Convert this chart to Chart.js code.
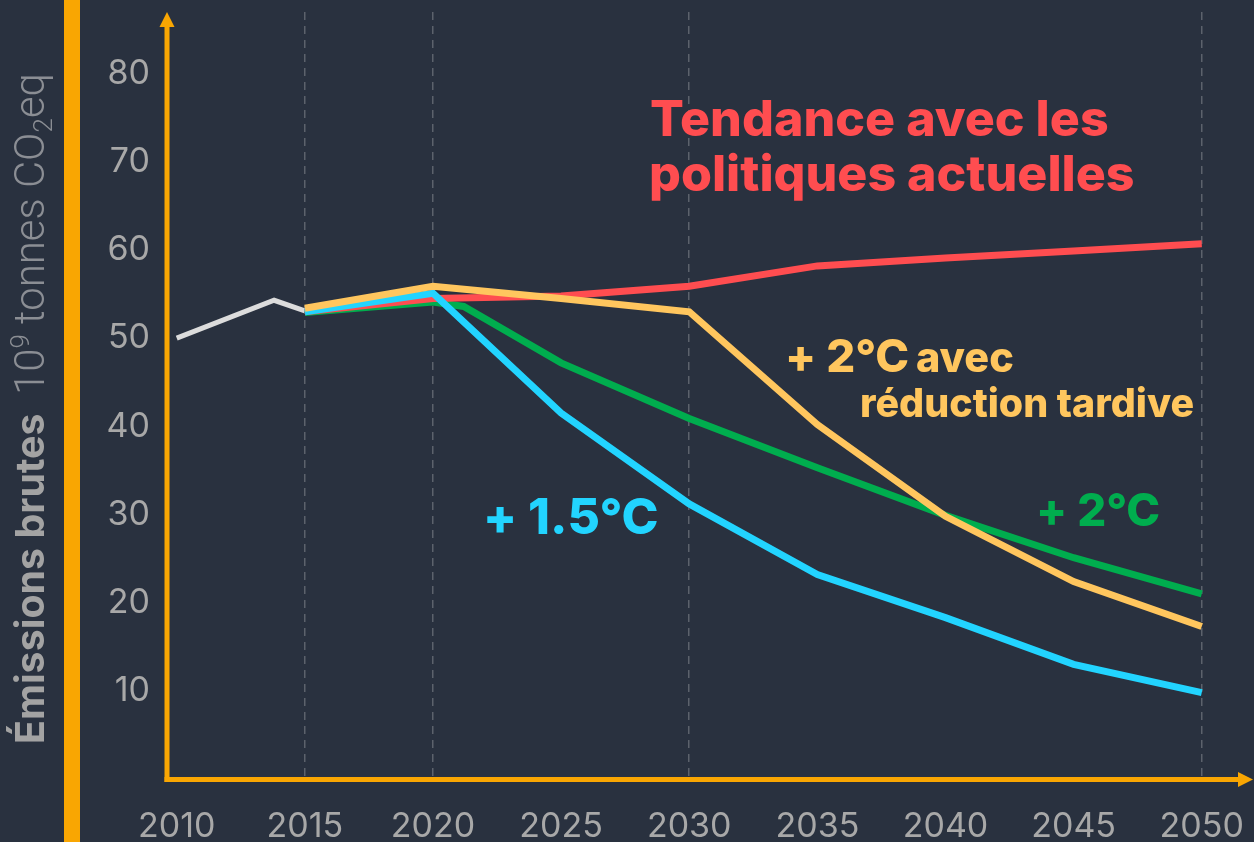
<!DOCTYPE html>
<html lang="fr">
<head>
<meta charset="utf-8">
<title>Émissions brutes</title>
<script src="https://cdn.jsdelivr.net/npm/chart.js@4.4.1/dist/chart.umd.min.js"></script>
<style>
  html, body { margin: 0; padding: 0; background: #29313f; }
  #wrap { width: 1254px; height: 842px; }
  canvas { display: block; }
</style>
</head>
<body>
<div id="wrap"><canvas id="chartEmissions" width="1254" height="842"></canvas></div>
<script>
// Valeurs (10^9 tonnes CO2eq)
var histYears = [2010, 2013.8, 2015];
var histValues = [50.0, 54.3, 53.1];

var scenarioYears = [2015, 2020, 2025, 2030, 2035, 2040, 2045, 2050];
var currentPolicies = [53.0, 54.5, 54.8, 55.9, 58.2, 59.1, 59.9, 60.7];
var lateReduction = [53.4, 55.9, 54.5, 53.0, 40.2, 29.8, 22.4, 17.3];
var path15 = [53.0, 55.1, 41.5, 31.2, 23.2, 18.3, 13.0, 9.8];

var path2Years = [2015, 2020, 2021.2, 2025, 2030, 2035, 2040, 2045, 2050];
var path2 = [52.9, 54.1, 53.6, 47.2, 40.9, 35.3, 29.9, 25.1, 21.0];

var xTicks = [2010, 2015, 2020, 2025, 2030, 2035, 2040, 2045, 2050];
var gridYears = [2015, 2020, 2030, 2050];
var yTicks = [10, 20, 30, 40, 50, 60, 70, 80];

var COL = {
    bg: '#29313f',
    orange: '#f9a602',
    red: '#ff4d50',
    yellow: '#ffc65e',
    green: '#00ad4e',
    blue: '#22d4ff',
    hist: '#dcdcdc',
    tick: '#a8a8a8',
    grid: '#5c626c'
};

// textes posés sur le graphique (position en pixels, largeur visée)
var notes = [
    { text: 'Tendance avec les', x: 651, y: 136, w: 456, color: COL.red },
    { text: 'politiques actuelles', x: 651, y: 191, w: 482, color: COL.red },
    { text: '+ 2°C', x: 788, y: 372, w: 119, color: COL.yellow },
    { text: 'avec', x: 917, y: 372, w: 96, color: COL.yellow },
    { text: 'réduction tardive', x: 862, y: 417, w: 331, color: COL.yellow },
    { text: '+ 1.5°C', x: 487, y: 534, w: 170, color: COL.blue },
    { text: '+ 2°C', x: 1039, y: 526, w: 119, color: COL.green }
];

function toPoints(xs, ys) {
    return xs.map(function(x, i) { return { x: x, y: ys[i] }; });
}

function drawFitted(ctx, text, x, baseline, width, weight, family, color) {
    ctx.font = weight + ' 100px ' + family;
    var m = ctx.measureText(text);
    var size = 100 * width / (m.actualBoundingBoxLeft + m.actualBoundingBoxRight);
    ctx.font = weight + ' ' + size.toFixed(2) + 'px ' + family;
    m = ctx.measureText(text);
    ctx.fillStyle = color;
    ctx.textAlign = 'left';
    ctx.textBaseline = 'alphabetic';
    ctx.fillText(text, x + m.actualBoundingBoxLeft, baseline);
}

var decorPlugin = {
    id: 'decor',
    beforeDraw: function(chart) {
        var ctx = chart.ctx;
        ctx.save();
        ctx.fillStyle = COL.bg;
        ctx.fillRect(0, 0, chart.width, chart.height);
        ctx.fillStyle = COL.orange;
        ctx.fillRect(64, 0, 16, chart.height);
        ctx.restore();
    },
    afterDraw: function(chart) {
        var ctx = chart.ctx;
        var a = chart.chartArea;
        ctx.save();

        // axes orange avec flèches
        ctx.fillStyle = COL.orange;
        ctx.fillRect(a.left - 2.5, a.top + 14, 5, a.bottom - a.top - 11);
        ctx.beginPath();
        ctx.moveTo(a.left, a.top);
        ctx.lineTo(a.left - 7.5, a.top + 15);
        ctx.lineTo(a.left + 7.5, a.top + 15);
        ctx.closePath();
        ctx.fill();
        ctx.fillRect(a.left - 2.5, a.bottom - 2, a.right - a.left - 12, 5);
        ctx.beginPath();
        ctx.moveTo(a.right, a.bottom + 0.5);
        ctx.lineTo(a.right - 15, a.bottom - 7);
        ctx.lineTo(a.right - 15, a.bottom + 8);
        ctx.closePath();
        ctx.fill();

        // titre de l'axe vertical
        ctx.translate(44, 742);
        ctx.rotate(-Math.PI / 2);
        drawFitted(ctx, 'Émissions brutes', 0, 0, 327, 700, 'Inter, sans-serif', '#a3a3a3');

        var parts = [
            { t: '10', k: 1, dy: 0 },
            { t: '9', k: 0.62, dy: -0.36 },
            { t: ' tonnes CO', k: 1, dy: 0 },
            { t: '2', k: 0.62, dy: 0.2 },
            { t: 'eq', k: 1, dy: 0 }
        ];
        var fam = 'Roboto, sans-serif';
        var total = 0;
        parts.forEach(function(p) {
            ctx.font = '300 ' + (100 * p.k) + 'px ' + fam;
            total += ctx.measureText(p.t).width;
        });
        var s = 100 * 322 / total;
        var px = 347;
        ctx.fillStyle = '#8b8e94';
        parts.forEach(function(p) {
            ctx.font = '300 ' + (s * p.k).toFixed(2) + 'px ' + fam;
            ctx.fillText(p.t, px, p.dy * s);
            px += ctx.measureText(p.t).width;
        });
        ctx.restore();

        ctx.save();
        notes.forEach(function(n) {
            drawFitted(ctx, n.text, n.x, n.y, n.w, 800, 'Inter, sans-serif', n.color);
        });
        ctx.restore();
    }
};

var ctx = document.getElementById('chartEmissions');

var chartEmissions = new Chart(ctx, {
    type: 'line',
    data: {
        datasets: [
            { label: '+ 2°C avec réduction tardive', data: toPoints(scenarioYears, lateReduction), borderColor: COL.yellow, borderWidth: 7 },
            { label: '+ 1.5°C', data: toPoints(scenarioYears, path15), borderColor: COL.blue, borderWidth: 7 },
            { label: 'Tendance avec les politiques actuelles', data: toPoints(scenarioYears, currentPolicies), borderColor: COL.red, borderWidth: 7 },
            { label: '+ 2°C', data: toPoints(path2Years, path2), borderColor: COL.green, borderWidth: 7 },
            { label: 'Historique', data: toPoints(histYears, histValues), borderColor: COL.hist, borderWidth: 5 }
        ]
    },
    options: {
        responsive: false,
        animation: false,
        layout: { padding: { top: 12, right: 1, left: 0, bottom: 0 } },
        elements: {
            point: { radius: 0, hoverRadius: 0 },
            line: { tension: 0, fill: false, borderJoinStyle: 'miter', borderCapStyle: 'butt' }
        },
        plugins: {
            legend: { display: false },
            tooltip: { enabled: false }
        },
        scales: {
            x: {
                type: 'linear',
                min: 2009.62,
                max: 2052.0,
                afterFit: function(s) {
                    s.height = 63;
                    s.paddingLeft = 0;
                    s.paddingRight = 0;
                },
                afterBuildTicks: function(s) {
                    s.ticks = xTicks.map(function(v) { return { value: v }; });
                },
                grid: {
                    drawTicks: false,
                    lineWidth: 1.5,
                    color: function(c) {
                        return c.tick && gridYears.indexOf(c.tick.value) >= 0 ? COL.grid : 'rgba(0,0,0,0)';
                    }
                },
                border: { display: false, dash: [8, 6] },
                ticks: {
                    color: COL.tick,
                    font: { family: 'Inter, sans-serif', size: 34 },
                    padding: 27,
                    maxRotation: 0,
                    autoSkip: false,
                    callback: function(v) { return String(v); }
                }
            },
            y: {
                min: 0,
                max: 87,
                afterFit: function(s) {
                    s.width = 167;
                    s.paddingTop = 0;
                    s.paddingBottom = 0;
                },
                afterBuildTicks: function(s) {
                    s.ticks = yTicks.map(function(v) { return { value: v }; });
                },
                grid: { display: false, drawTicks: false },
                border: { display: false },
                ticks: {
                    color: COL.tick,
                    font: { family: 'Inter, sans-serif', size: 34 },
                    padding: 17,
                    callback: function(v) { return String(v); }
                }
            }
        }
    },
    plugins: [decorPlugin]
});
</script>
</body>
</html>
